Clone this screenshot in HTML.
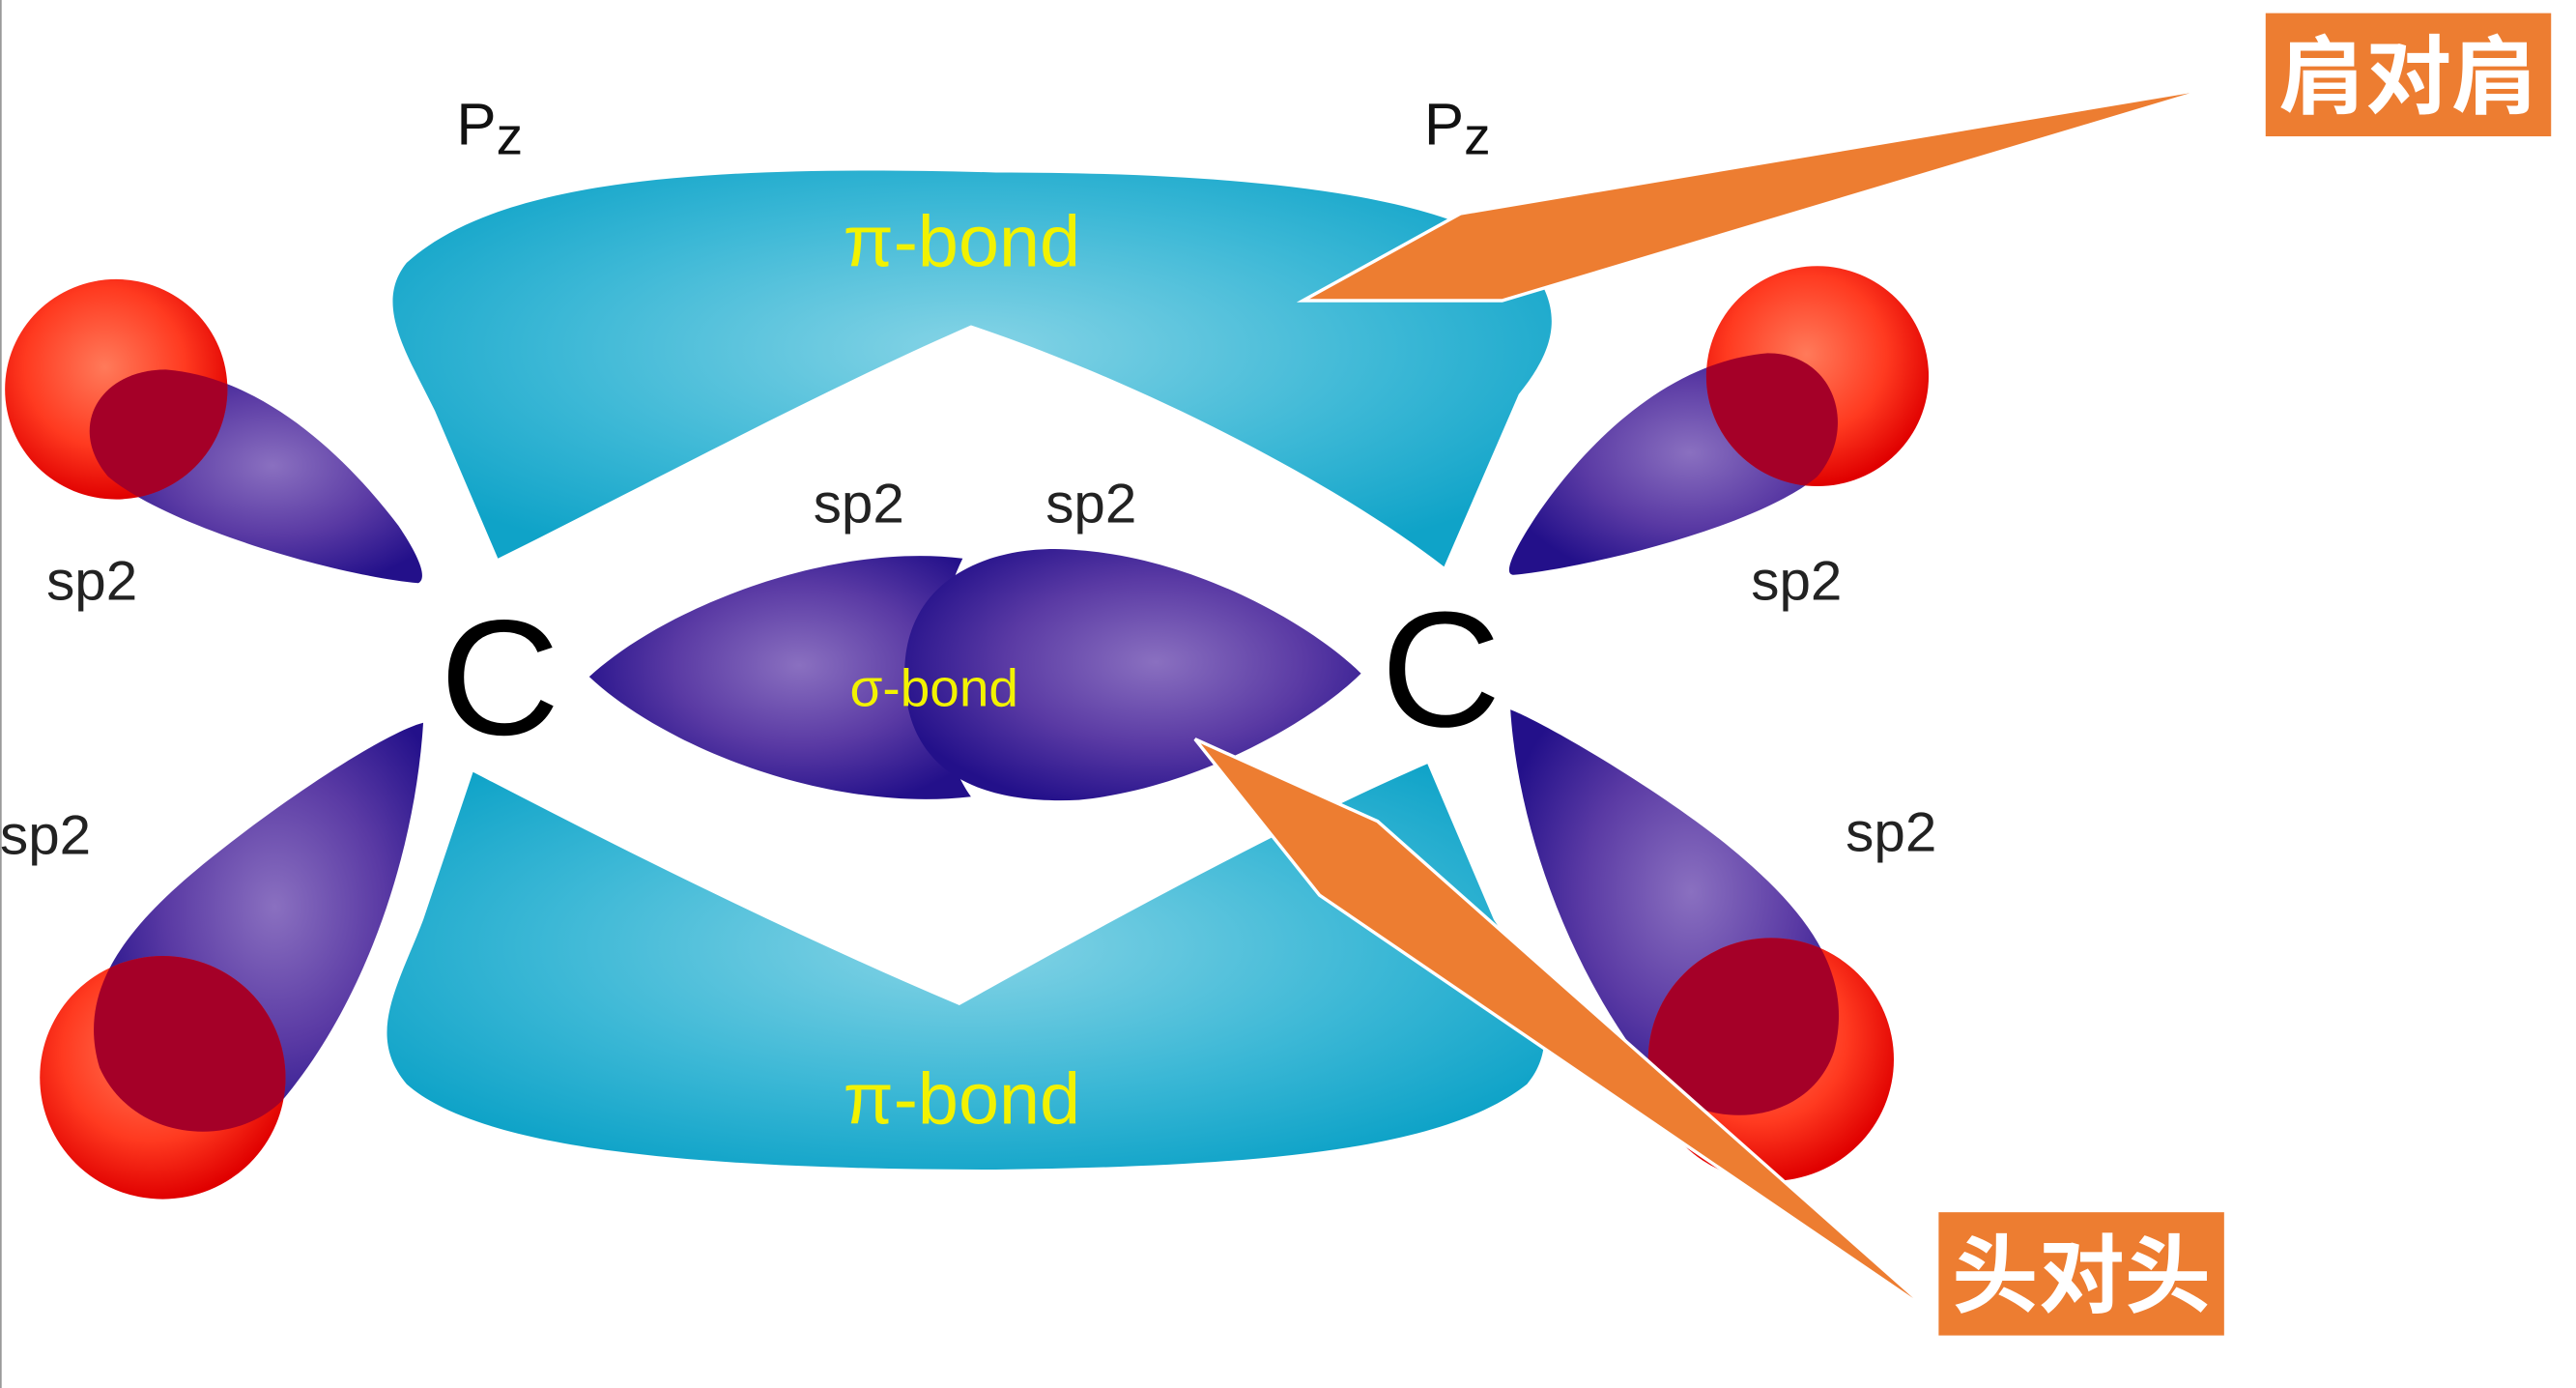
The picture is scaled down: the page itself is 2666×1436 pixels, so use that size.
<!DOCTYPE html>
<html><head><meta charset="utf-8"><style>
html,body{margin:0;padding:0;background:#fff;}
svg{display:block;}
text{font-family:"Liberation Sans","DejaVu Sans",sans-serif;}
.cjk{font-family:"Liberation Sans","Noto Sans CJK SC",sans-serif;font-weight:bold;}
</style></head><body>
<svg width="2666" height="1436" viewBox="0 0 1552 845" preserveAspectRatio="none" xmlns="http://www.w3.org/2000/svg">
<defs>
<radialGradient id="cy" cx="50%" cy="45%" r="60%">
<stop offset="0" stop-color="#86d4e6"/><stop offset="0.6" stop-color="#3cb8d6"/><stop offset="1" stop-color="#0fa3c8"/></radialGradient>
<radialGradient id="pu" cx="55%" cy="45%" r="60%">
<stop offset="0" stop-color="#8a70c0"/><stop offset="0.55" stop-color="#5a3aa4"/><stop offset="1" stop-color="#23108a"/></radialGradient>
<radialGradient id="rd" cx="45%" cy="40%" r="60%">
<stop offset="0" stop-color="#ff7a5a"/><stop offset="0.6" stop-color="#ff3a20"/><stop offset="1" stop-color="#e00000"/></radialGradient>
<path id="l1" d="M252,355 C200,350 100,320 65,290 C40,260 60,225 100,225 C160,230 210,280 240,320 C252,338 258,352 252,355 Z"/>
<path id="l2" d="M912,350 C960,345 1060,320 1095,290 C1120,260 1105,215 1065,215 C1005,220 955,270 925,315 C912,335 905,350 912,350 Z"/>
<path id="l3" d="M255,440 C250,520 220,610 170,670 C140,700 80,695 60,650 C45,600 80,560 130,520 C180,480 235,445 255,440 Z"/>
<path id="l4" d="M910,432 C915,510 950,600 1000,660 C1030,690 1090,685 1105,640 C1118,590 1085,550 1035,510 C990,475 930,440 910,432 Z"/>
<clipPath id="c1"><circle cx="70" cy="237" r="67"/></clipPath>
<clipPath id="c2"><circle cx="1095" cy="229" r="67"/></clipPath>
<clipPath id="c3"><circle cx="98" cy="656" r="74"/></clipPath>
<clipPath id="c4"><circle cx="1067" cy="645" r="74"/></clipPath>
</defs>
<line x1="0.5" y1="0" x2="0.5" y2="845" stroke="#999" stroke-width="1"/>
<!-- top pi -->
<path d="M245,160 C300,110 420,100 600,105 C760,105 880,120 920,160 C945,190 935,215 915,240 L870,345 C800,290 680,230 585,198 C490,240 380,300 300,340 L262,250 C245,215 225,185 245,160 Z" fill="url(#cy)"/>
<!-- bottom pi -->
<path d="M285,470 C380,520 480,570 578,612 C670,560 780,500 860,465 L900,560 C920,590 945,630 920,660 C870,700 760,710 600,712 C420,712 290,700 245,660 C220,630 240,600 255,560 Z" fill="url(#cy)"/>
<!-- sp2 lobes -->
<use href="#l1" fill="url(#pu)"/>
<use href="#l2" fill="url(#pu)"/>
<use href="#l3" fill="url(#pu)"/>
<use href="#l4" fill="url(#pu)"/>
<!-- sigma -->
<path d="M355,412 C400,370 500,330 580,340 C560,380 560,450 585,485 C500,495 400,455 355,412 Z" fill="url(#pu)"/>
<path d="M545,410 C545,350 600,330 650,335 C720,340 790,380 820,410 C790,440 720,480 650,487 C590,490 545,470 545,410 Z" fill="url(#pu)"/>
<!-- red circles -->
<circle cx="70" cy="237" r="67" fill="url(#rd)"/>
<use href="#l1" fill="#a50028" clip-path="url(#c1)"/>
<circle cx="1095" cy="229" r="67" fill="url(#rd)"/>
<use href="#l2" fill="#a50028" clip-path="url(#c2)"/>
<circle cx="98" cy="656" r="74" fill="url(#rd)"/>
<use href="#l3" fill="#a50028" clip-path="url(#c3)"/>
<circle cx="1067" cy="645" r="74" fill="url(#rd)"/>
<use href="#l4" fill="#a50028" clip-path="url(#c4)"/>
<!-- labels -->
<text x="265" y="447" font-size="100" fill="#000">C</text>
<text x="832" y="442" font-size="100" fill="#000">C</text>
<text x="275" y="88" font-size="36" fill="#111">P<tspan font-size="32" dy="6">z</tspan></text>
<text x="858" y="88" font-size="36" fill="#111">P<tspan font-size="32" dy="6">z</tspan></text>
<text x="28" y="365" font-size="34" fill="#222">sp2</text>
<text x="490" y="318" font-size="34" fill="#222">sp2</text>
<text x="630" y="318" font-size="34" fill="#222">sp2</text>
<text x="1055" y="365" font-size="34" fill="#222">sp2</text>
<text x="0" y="520" font-size="34" fill="#222">sp2</text>
<text x="1112" y="518" font-size="34" fill="#222">sp2</text>
<text x="508" y="162" font-size="44" fill="#f2f200">π-bond</text>
<text x="508" y="684" font-size="44" fill="#f2f200">π-bond</text>
<text x="512" y="430" font-size="32" fill="#f2f200">σ-bond</text>
<!-- callouts -->
<polygon points="785,183 880,130 1335,53 905,183" fill="#ed7d31" stroke="#fff" stroke-width="2"/>
<rect x="1365" y="8" width="172" height="75" fill="#ed7d31"/>
<text x="1451" y="65" font-size="52" fill="#fff" text-anchor="middle" class="cjk">肩对肩</text>
<polygon points="720,450 830,500 1165,800 795,545" fill="#ed7d31" stroke="#fff" stroke-width="2"/>
<rect x="1168" y="738" width="172" height="75" fill="#ed7d31"/>
<text x="1254" y="795" font-size="52" fill="#fff" text-anchor="middle" class="cjk">头对头</text>
</svg>
</body></html>
